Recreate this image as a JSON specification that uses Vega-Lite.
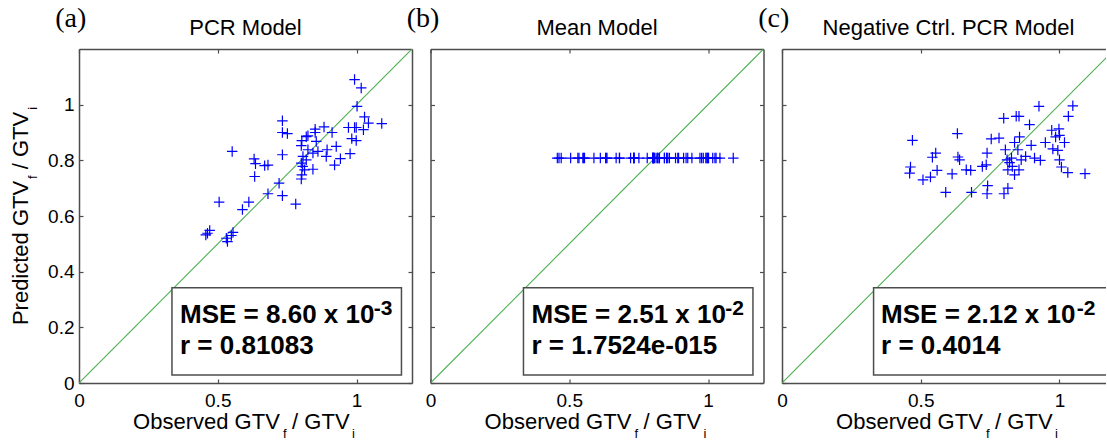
{
  "$schema": "https://vega.github.io/schema/vega-lite/v6.json",
  "background": "white",
  "padding": {"left": 9, "top": 5, "right": 0, "bottom": 0},
  "config": {
    "view": {"stroke": null},
    "axis": {
      "grid": false,
      "domainColor": "#4d4d4d",
      "domainWidth": 1.5,
      "tickColor": "#4d4d4d",
      "tickWidth": 1.2,
      "tickSize": -4,
      "labelFont": "Liberation Sans",
      "labelFontSize": 19,
      "labelColor": "#000000",
      "labelFlush": false,
      "labelOverlap": false
    },
    "axisBottom": {"labelPadding": 12},
    "axisLeft": {"labelPadding": 9}
  },
  "datasets": {
    "diag": [{"v": 0}, {"v": 1.2}],
    "notes": [
      {"panel": "a", "role": "tag", "label": "(a)"},
      {"panel": "a", "role": "title", "label": "PCR Model"},
      {"panel": "a", "role": "mse", "label": "MSE = 8.60 x 10"},
      {"panel": "a", "role": "exp", "label": "-3"},
      {"panel": "a", "role": "r", "label": "r = 0.81083"},
      {"panel": "a", "role": "xt1", "label": "Observed GTV"},
      {"panel": "a", "role": "xf", "label": "f"},
      {"panel": "a", "role": "xt2", "label": "/ GTV"},
      {"panel": "a", "role": "xi", "label": "i"},
      {"panel": "a", "role": "yt1", "label": "Predicted GTV"},
      {"panel": "a", "role": "yf", "label": "f"},
      {"panel": "a", "role": "yt2", "label": "/ GTV"},
      {"panel": "a", "role": "yi", "label": "i"},
      {"panel": "b", "role": "tag", "label": "(b)"},
      {"panel": "b", "role": "title", "label": "Mean Model"},
      {"panel": "b", "role": "mse", "label": "MSE = 2.51 x 10"},
      {"panel": "b", "role": "exp", "label": "-2"},
      {"panel": "b", "role": "r", "label": "r = 1.7524e-015"},
      {"panel": "b", "role": "xt1", "label": "Observed GTV"},
      {"panel": "b", "role": "xf", "label": "f"},
      {"panel": "b", "role": "xt2", "label": "/ GTV"},
      {"panel": "b", "role": "xi", "label": "i"},
      {"panel": "c", "role": "tag", "label": "(c)"},
      {"panel": "c", "role": "title", "label": "Negative Ctrl. PCR Model"},
      {"panel": "c", "role": "mse", "label": "MSE = 2.12 x 10"},
      {"panel": "c", "role": "exp", "label": "-2"},
      {"panel": "c", "role": "r", "label": "r = 0.4014"},
      {"panel": "c", "role": "xt1", "label": "Observed GTV"},
      {"panel": "c", "role": "xf", "label": "f"},
      {"panel": "c", "role": "xt2", "label": "/ GTV"},
      {"panel": "c", "role": "xi", "label": "i"}
    ],
    "pts": [
      {"panel": "a", "obs": 0.993, "pred": 1.090}, {"panel": "a", "obs": 1.017, "pred": 1.060},
      {"panel": "a", "obs": 1.002, "pred": 0.994}, {"panel": "a", "obs": 1.029, "pred": 0.956},
      {"panel": "a", "obs": 1.043, "pred": 0.934}, {"panel": "a", "obs": 1.091, "pred": 0.932},
      {"panel": "a", "obs": 1.025, "pred": 0.910}, {"panel": "a", "obs": 0.993, "pred": 0.918},
      {"panel": "a", "obs": 0.971, "pred": 0.918}, {"panel": "a", "obs": 0.999, "pred": 0.918},
      {"panel": "a", "obs": 0.983, "pred": 0.878}, {"panel": "a", "obs": 0.999, "pred": 0.871},
      {"panel": "a", "obs": 0.977, "pred": 0.824}, {"panel": "a", "obs": 0.942, "pred": 0.806},
      {"panel": "a", "obs": 0.921, "pred": 0.783}, {"panel": "a", "obs": 0.927, "pred": 0.850},
      {"panel": "a", "obs": 0.894, "pred": 0.838}, {"panel": "a", "obs": 0.891, "pred": 0.814},
      {"panel": "a", "obs": 0.912, "pred": 0.900}, {"panel": "a", "obs": 0.883, "pred": 0.920},
      {"panel": "a", "obs": 0.851, "pred": 0.912}, {"panel": "a", "obs": 0.851, "pred": 0.900},
      {"panel": "a", "obs": 0.855, "pred": 0.868}, {"panel": "a", "obs": 0.861, "pred": 0.832},
      {"panel": "a", "obs": 0.843, "pred": 0.826}, {"panel": "a", "obs": 0.843, "pred": 0.768},
      {"panel": "a", "obs": 0.825, "pred": 0.888}, {"panel": "a", "obs": 0.819, "pred": 0.885},
      {"panel": "a", "obs": 0.803, "pred": 0.871}, {"panel": "a", "obs": 0.801, "pred": 0.853},
      {"panel": "a", "obs": 0.807, "pred": 0.814}, {"panel": "a", "obs": 0.819, "pred": 0.802},
      {"panel": "a", "obs": 0.801, "pred": 0.790}, {"panel": "a", "obs": 0.806, "pred": 0.778},
      {"panel": "a", "obs": 0.813, "pred": 0.766}, {"panel": "a", "obs": 0.803, "pred": 0.748},
      {"panel": "a", "obs": 0.801, "pred": 0.733}, {"panel": "a", "obs": 0.781, "pred": 0.643},
      {"panel": "a", "obs": 0.733, "pred": 0.942}, {"panel": "a", "obs": 0.733, "pred": 0.900},
      {"panel": "a", "obs": 0.751, "pred": 0.896}, {"panel": "a", "obs": 0.733, "pred": 0.820},
      {"panel": "a", "obs": 0.721, "pred": 0.718}, {"panel": "a", "obs": 0.733, "pred": 0.673},
      {"panel": "a", "obs": 0.681, "pred": 0.680}, {"panel": "a", "obs": 0.669, "pred": 0.781},
      {"panel": "a", "obs": 0.681, "pred": 0.783}, {"panel": "a", "obs": 0.631, "pred": 0.805},
      {"panel": "a", "obs": 0.636, "pred": 0.788}, {"panel": "a", "obs": 0.633, "pred": 0.742},
      {"panel": "a", "obs": 0.552, "pred": 0.832}, {"panel": "a", "obs": 0.612, "pred": 0.650},
      {"panel": "a", "obs": 0.589, "pred": 0.623}, {"panel": "a", "obs": 0.505, "pred": 0.650},
      {"panel": "a", "obs": 0.471, "pred": 0.548}, {"panel": "a", "obs": 0.463, "pred": 0.538},
      {"panel": "a", "obs": 0.457, "pred": 0.532}, {"panel": "a", "obs": 0.531, "pred": 0.520},
      {"panel": "a", "obs": 0.535, "pred": 0.508}, {"panel": "a", "obs": 0.549, "pred": 0.530},
      {"panel": "a", "obs": 0.555, "pred": 0.541}, {"panel": "a", "obs": 0.825, "pred": 0.838},

      {"panel": "b", "obs": 0.993, "pred": 0.808}, {"panel": "b", "obs": 1.017, "pred": 0.808},
      {"panel": "b", "obs": 1.002, "pred": 0.808}, {"panel": "b", "obs": 1.029, "pred": 0.808},
      {"panel": "b", "obs": 1.043, "pred": 0.808}, {"panel": "b", "obs": 1.091, "pred": 0.808},
      {"panel": "b", "obs": 1.025, "pred": 0.808}, {"panel": "b", "obs": 0.993, "pred": 0.808},
      {"panel": "b", "obs": 0.971, "pred": 0.808}, {"panel": "b", "obs": 0.999, "pred": 0.808},
      {"panel": "b", "obs": 0.983, "pred": 0.808}, {"panel": "b", "obs": 0.999, "pred": 0.808},
      {"panel": "b", "obs": 0.977, "pred": 0.808}, {"panel": "b", "obs": 0.942, "pred": 0.808},
      {"panel": "b", "obs": 0.921, "pred": 0.808}, {"panel": "b", "obs": 0.927, "pred": 0.808},
      {"panel": "b", "obs": 0.894, "pred": 0.808}, {"panel": "b", "obs": 0.891, "pred": 0.808},
      {"panel": "b", "obs": 0.912, "pred": 0.808}, {"panel": "b", "obs": 0.883, "pred": 0.808},
      {"panel": "b", "obs": 0.851, "pred": 0.808}, {"panel": "b", "obs": 0.851, "pred": 0.808},
      {"panel": "b", "obs": 0.855, "pred": 0.808}, {"panel": "b", "obs": 0.861, "pred": 0.808},
      {"panel": "b", "obs": 0.843, "pred": 0.808}, {"panel": "b", "obs": 0.843, "pred": 0.808},
      {"panel": "b", "obs": 0.825, "pred": 0.808}, {"panel": "b", "obs": 0.819, "pred": 0.808},
      {"panel": "b", "obs": 0.803, "pred": 0.808}, {"panel": "b", "obs": 0.801, "pred": 0.808},
      {"panel": "b", "obs": 0.807, "pred": 0.808}, {"panel": "b", "obs": 0.819, "pred": 0.808},
      {"panel": "b", "obs": 0.801, "pred": 0.808}, {"panel": "b", "obs": 0.806, "pred": 0.808},
      {"panel": "b", "obs": 0.813, "pred": 0.808}, {"panel": "b", "obs": 0.803, "pred": 0.808},
      {"panel": "b", "obs": 0.801, "pred": 0.808}, {"panel": "b", "obs": 0.781, "pred": 0.808},
      {"panel": "b", "obs": 0.733, "pred": 0.808}, {"panel": "b", "obs": 0.733, "pred": 0.808},
      {"panel": "b", "obs": 0.751, "pred": 0.808}, {"panel": "b", "obs": 0.733, "pred": 0.808},
      {"panel": "b", "obs": 0.721, "pred": 0.808}, {"panel": "b", "obs": 0.733, "pred": 0.808},
      {"panel": "b", "obs": 0.681, "pred": 0.808}, {"panel": "b", "obs": 0.669, "pred": 0.808},
      {"panel": "b", "obs": 0.681, "pred": 0.808}, {"panel": "b", "obs": 0.631, "pred": 0.808},
      {"panel": "b", "obs": 0.636, "pred": 0.808}, {"panel": "b", "obs": 0.633, "pred": 0.808},
      {"panel": "b", "obs": 0.552, "pred": 0.808}, {"panel": "b", "obs": 0.612, "pred": 0.808},
      {"panel": "b", "obs": 0.589, "pred": 0.808}, {"panel": "b", "obs": 0.505, "pred": 0.808},
      {"panel": "b", "obs": 0.471, "pred": 0.808}, {"panel": "b", "obs": 0.463, "pred": 0.808},
      {"panel": "b", "obs": 0.457, "pred": 0.808}, {"panel": "b", "obs": 0.531, "pred": 0.808},
      {"panel": "b", "obs": 0.535, "pred": 0.808}, {"panel": "b", "obs": 0.549, "pred": 0.808},
      {"panel": "b", "obs": 0.555, "pred": 0.808}, {"panel": "b", "obs": 0.825, "pred": 0.808},

      {"panel": "c", "obs": 0.470, "pred": 0.872}, {"panel": "c", "obs": 0.463, "pred": 0.776},
      {"panel": "c", "obs": 0.460, "pred": 0.754}, {"panel": "c", "obs": 0.508, "pred": 0.730},
      {"panel": "c", "obs": 0.535, "pred": 0.740}, {"panel": "c", "obs": 0.559, "pred": 0.764},
      {"panel": "c", "obs": 0.542, "pred": 0.811}, {"panel": "c", "obs": 0.554, "pred": 0.826},
      {"panel": "c", "obs": 0.590, "pred": 0.685}, {"panel": "c", "obs": 0.613, "pred": 0.751},
      {"panel": "c", "obs": 0.632, "pred": 0.896}, {"panel": "c", "obs": 0.634, "pred": 0.812},
      {"panel": "c", "obs": 0.640, "pred": 0.802}, {"panel": "c", "obs": 0.664, "pred": 0.766},
      {"panel": "c", "obs": 0.680, "pred": 0.764}, {"panel": "c", "obs": 0.683, "pred": 0.685},
      {"panel": "c", "obs": 0.722, "pred": 0.778}, {"panel": "c", "obs": 0.736, "pred": 0.784},
      {"panel": "c", "obs": 0.739, "pred": 0.826}, {"panel": "c", "obs": 0.741, "pred": 0.709},
      {"panel": "c", "obs": 0.739, "pred": 0.680}, {"panel": "c", "obs": 0.754, "pred": 0.877},
      {"panel": "c", "obs": 0.782, "pred": 0.880}, {"panel": "c", "obs": 0.799, "pred": 0.951},
      {"panel": "c", "obs": 0.800, "pred": 0.680}, {"panel": "c", "obs": 0.814, "pred": 0.700},
      {"panel": "c", "obs": 0.805, "pred": 0.838}, {"panel": "c", "obs": 0.811, "pred": 0.802},
      {"panel": "c", "obs": 0.814, "pred": 0.766}, {"panel": "c", "obs": 0.820, "pred": 0.792},
      {"panel": "c", "obs": 0.838, "pred": 0.748}, {"panel": "c", "obs": 0.844, "pred": 0.958},
      {"panel": "c", "obs": 0.854, "pred": 0.958}, {"panel": "c", "obs": 0.838, "pred": 0.864},
      {"panel": "c", "obs": 0.850, "pred": 0.838}, {"panel": "c", "obs": 0.856, "pred": 0.884},
      {"panel": "c", "obs": 0.854, "pred": 0.766}, {"panel": "c", "obs": 0.862, "pred": 0.802},
      {"panel": "c", "obs": 0.878, "pred": 0.814}, {"panel": "c", "obs": 0.892, "pred": 0.928},
      {"panel": "c", "obs": 0.898, "pred": 0.854}, {"panel": "c", "obs": 0.910, "pred": 0.808},
      {"panel": "c", "obs": 0.926, "pred": 0.994}, {"panel": "c", "obs": 0.931, "pred": 0.800},
      {"panel": "c", "obs": 0.949, "pred": 0.864}, {"panel": "c", "obs": 0.972, "pred": 0.908},
      {"panel": "c", "obs": 0.976, "pred": 0.841}, {"panel": "c", "obs": 0.986, "pred": 0.884},
      {"panel": "c", "obs": 0.998, "pred": 0.913}, {"panel": "c", "obs": 0.994, "pred": 0.836},
      {"panel": "c", "obs": 1.000, "pred": 0.802}, {"panel": "c", "obs": 1.007, "pred": 0.776},
      {"panel": "c", "obs": 1.018, "pred": 0.864}, {"panel": "c", "obs": 1.030, "pred": 0.756},
      {"panel": "c", "obs": 1.032, "pred": 0.958}, {"panel": "c", "obs": 1.048, "pred": 0.996},
      {"panel": "c", "obs": 1.092, "pred": 0.752}, {"panel": "c", "obs": 0.827, "pred": 0.808},
      {"panel": "c", "obs": 0.830, "pred": 0.778}, {"panel": "c", "obs": 1.000, "pred": 0.890}
    ]
  },
  "bounds": "flush",
  "spacing": 18.5,
  "hconcat": [
    {
      "width": 333,
      "height": 334,
      "resolve": {"axis": {"x": "independent", "y": "independent"}},
      "layer": [
        {
          "data": {"name": "diag"},
          "mark": {"type": "line", "color": "#4caf50", "strokeWidth": 1.1, "clip": true},
          "encoding": {
            "x": {"field": "v", "type": "quantitative", "scale": {"domain": [0, 1.2], "nice": false},
                  "axis": {"orient": "top", "values": [0, 0.5, 1], "labels": false, "title": null}},
            "y": {"field": "v", "type": "quantitative", "scale": {"domain": [0, 1.2], "nice": false},
                  "axis": {"orient": "right", "values": [0, 0.2, 0.4, 0.6, 0.8, 1], "labels": false, "title": null}}
          }
        },
        {
          "data": {"name": "notes"},
          "transform": [{"filter": "datum.panel === 'a' && datum.role === 'mse'"}],
          "mark": {"type": "rect", "fill": "white", "stroke": "#4d4d4d", "strokeWidth": 1.5, "clip": true},
          "encoding": {
            "x": {"datum": 0.335, "axis": null}, "x2": {"datum": 1.162},
            "y": {"datum": 0.029, "axis": null}, "y2": {"datum": 0.342}
          }
        },
        {
          "data": {"name": "pts"},
          "transform": [{"filter": "datum.panel === 'a'"}],
          "mark": {"type": "point", "shape": "M-1,0H1M0,-1V1", "filled": false, "color": "#0000ff", "strokeWidth": 1.2, "size": 110, "opacity": 1},
          "encoding": {
            "x": {"field": "obs", "type": "quantitative", "scale": {"domain": [0, 1.2], "nice": false},
                  "axis": {"orient": "bottom", "values": [0, 0.5, 1], "format": "~g", "title": null}},
            "y": {"field": "pred", "type": "quantitative", "scale": {"domain": [0, 1.2], "nice": false},
                  "axis": {"orient": "left", "values": [0, 0.2, 0.4, 0.6, 0.8, 1], "format": "~g", "title": null}}
          }
        },
        {
          "data": {"name": "notes"},
          "transform": [{"filter": "datum.panel === 'a' && datum.role === 'tag'"}],
          "mark": {"type": "text", "align": "left", "baseline": "alphabetic", "font": "Liberation Serif", "fontSize": 28},
          "encoding": {"x": {"datum": -0.086, "axis": null}, "y": {"datum": 1.278, "axis": null}, "text": {"field": "label"}}
        },
        {
          "data": {"name": "notes"},
          "transform": [{"filter": "datum.panel === 'a' && datum.role === 'title'"}],
          "mark": {"type": "text", "align": "center", "baseline": "alphabetic", "font": "Liberation Sans", "fontSize": 22},
          "encoding": {"x": {"datum": 0.6, "axis": null}, "y": {"datum": 1.249, "axis": null}, "text": {"field": "label"}}
        },
        {
          "data": {"name": "notes"},
          "transform": [{"filter": "datum.panel === 'a' && datum.role === 'mse'"}],
          "mark": {"type": "text", "align": "left", "baseline": "alphabetic", "font": "Liberation Sans", "fontSize": 26, "fontWeight": "bold"},
          "encoding": {"x": {"datum": 0.364, "axis": null}, "y": {"datum": 0.215, "axis": null}, "text": {"field": "label"}}
        },
        {
          "data": {"name": "notes"},
          "transform": [{"filter": "datum.panel === 'a' && datum.role === 'exp'"}],
          "mark": {"type": "text", "align": "left", "baseline": "alphabetic", "font": "Liberation Sans", "fontSize": 21, "fontWeight": "bold"},
          "encoding": {"x": {"datum": 1.062, "axis": null}, "y": {"datum": 0.245, "axis": null}, "text": {"field": "label"}}
        },
        {
          "data": {"name": "notes"},
          "transform": [{"filter": "datum.panel === 'a' && datum.role === 'r'"}],
          "mark": {"type": "text", "align": "left", "baseline": "alphabetic", "font": "Liberation Sans", "fontSize": 26, "fontWeight": "bold"},
          "encoding": {"x": {"datum": 0.364, "axis": null}, "y": {"datum": 0.103, "axis": null}, "text": {"field": "label"}}
        },
        {
          "data": {"name": "notes"},
          "transform": [{"filter": "datum.panel === 'a' && datum.role === 'xt1'"}],
          "mark": {"type": "text", "align": "left", "baseline": "alphabetic", "font": "Liberation Sans", "fontSize": 22},
          "encoding": {"x": {"datum": 0.195, "axis": null}, "y": {"datum": -0.167, "axis": null}, "text": {"field": "label"}}
        },
        {
          "data": {"name": "notes"},
          "transform": [{"filter": "datum.panel === 'a' && datum.role === 'xf'"}],
          "mark": {"type": "text", "align": "left", "baseline": "alphabetic", "font": "Liberation Sans", "fontSize": 13},
          "encoding": {"x": {"datum": 0.735, "axis": null}, "y": {"datum": -0.199, "axis": null}, "text": {"field": "label"}}
        },
        {
          "data": {"name": "notes"},
          "transform": [{"filter": "datum.panel === 'a' && datum.role === 'xt2'"}],
          "mark": {"type": "text", "align": "left", "baseline": "alphabetic", "font": "Liberation Sans", "fontSize": 22},
          "encoding": {"x": {"datum": 0.768, "axis": null}, "y": {"datum": -0.167, "axis": null}, "text": {"field": "label"}}
        },
        {
          "data": {"name": "notes"},
          "transform": [{"filter": "datum.panel === 'a' && datum.role === 'xi'"}],
          "mark": {"type": "text", "align": "left", "baseline": "alphabetic", "font": "Liberation Sans", "fontSize": 13},
          "encoding": {"x": {"datum": 0.984, "axis": null}, "y": {"datum": -0.199, "axis": null}, "text": {"field": "label"}}
        },
        {
          "data": {"name": "notes"},
          "transform": [{"filter": "datum.panel === 'a' && datum.role === 'yt1'"}],
          "mark": {"type": "text", "align": "left", "baseline": "alphabetic", "angle": 270, "font": "Liberation Sans", "fontSize": 22},
          "encoding": {"x": {"datum": -0.184, "axis": null}, "y": {"datum": 0.208, "axis": null}, "text": {"field": "label"}}
        },
        {
          "data": {"name": "notes"},
          "transform": [{"filter": "datum.panel === 'a' && datum.role === 'yf'"}],
          "mark": {"type": "text", "align": "left", "baseline": "alphabetic", "angle": 270, "font": "Liberation Sans", "fontSize": 13},
          "encoding": {"x": {"datum": -0.152, "axis": null}, "y": {"datum": 0.733, "axis": null}, "text": {"field": "label"}}
        },
        {
          "data": {"name": "notes"},
          "transform": [{"filter": "datum.panel === 'a' && datum.role === 'yt2'"}],
          "mark": {"type": "text", "align": "left", "baseline": "alphabetic", "angle": 270, "font": "Liberation Sans", "fontSize": 22},
          "encoding": {"x": {"datum": -0.184, "axis": null}, "y": {"datum": 0.768, "axis": null}, "text": {"field": "label"}}
        },
        {
          "data": {"name": "notes"},
          "transform": [{"filter": "datum.panel === 'a' && datum.role === 'yi'"}],
          "mark": {"type": "text", "align": "left", "baseline": "alphabetic", "angle": 270, "font": "Liberation Sans", "fontSize": 13},
          "encoding": {"x": {"datum": -0.152, "axis": null}, "y": {"datum": 0.982, "axis": null}, "text": {"field": "label"}}
        }
      ]
    },
    {
      "width": 333,
      "height": 334,
      "resolve": {"axis": {"x": "independent", "y": "independent"}},
      "layer": [
        {
          "data": {"name": "diag"},
          "mark": {"type": "line", "color": "#4caf50", "strokeWidth": 1.1, "clip": true},
          "encoding": {
            "x": {"field": "v", "type": "quantitative", "scale": {"domain": [0, 1.2], "nice": false},
                  "axis": {"orient": "top", "values": [0, 0.5, 1], "labels": false, "title": null}},
            "y": {"field": "v", "type": "quantitative", "scale": {"domain": [0, 1.2], "nice": false},
                  "axis": {"orient": "right", "values": [0, 0.2, 0.4, 0.6, 0.8, 1], "labels": false, "title": null}}
          }
        },
        {
          "data": {"name": "notes"},
          "transform": [{"filter": "datum.panel === 'b' && datum.role === 'mse'"}],
          "mark": {"type": "rect", "fill": "white", "stroke": "#4d4d4d", "strokeWidth": 1.5, "clip": true},
          "encoding": {
            "x": {"datum": 0.335, "axis": null}, "x2": {"datum": 1.162},
            "y": {"datum": 0.029, "axis": null}, "y2": {"datum": 0.342}
          }
        },
        {
          "data": {"name": "pts"},
          "transform": [{"filter": "datum.panel === 'b'"}],
          "mark": {"type": "point", "shape": "M-1,0H1M0,-1V1", "filled": false, "color": "#0000ff", "strokeWidth": 1.2, "size": 110, "opacity": 1},
          "encoding": {
            "x": {"field": "obs", "type": "quantitative", "scale": {"domain": [0, 1.2], "nice": false},
                  "axis": {"orient": "bottom", "values": [0, 0.5, 1], "format": "~g", "title": null}},
            "y": {"field": "pred", "type": "quantitative", "scale": {"domain": [0, 1.2], "nice": false},
                  "axis": {"orient": "left", "values": [0, 0.2, 0.4, 0.6, 0.8, 1], "labels": false, "title": null}}
          }
        },
        {
          "data": {"name": "notes"},
          "transform": [{"filter": "datum.panel === 'b' && datum.role === 'tag'"}],
          "mark": {"type": "text", "align": "left", "baseline": "alphabetic", "font": "Liberation Serif", "fontSize": 28},
          "encoding": {"x": {"datum": -0.086, "axis": null}, "y": {"datum": 1.278, "axis": null}, "text": {"field": "label"}}
        },
        {
          "data": {"name": "notes"},
          "transform": [{"filter": "datum.panel === 'b' && datum.role === 'title'"}],
          "mark": {"type": "text", "align": "center", "baseline": "alphabetic", "font": "Liberation Sans", "fontSize": 22},
          "encoding": {"x": {"datum": 0.6, "axis": null}, "y": {"datum": 1.249, "axis": null}, "text": {"field": "label"}}
        },
        {
          "data": {"name": "notes"},
          "transform": [{"filter": "datum.panel === 'b' && datum.role === 'mse'"}],
          "mark": {"type": "text", "align": "left", "baseline": "alphabetic", "font": "Liberation Sans", "fontSize": 26, "fontWeight": "bold"},
          "encoding": {"x": {"datum": 0.364, "axis": null}, "y": {"datum": 0.215, "axis": null}, "text": {"field": "label"}}
        },
        {
          "data": {"name": "notes"},
          "transform": [{"filter": "datum.panel === 'b' && datum.role === 'exp'"}],
          "mark": {"type": "text", "align": "left", "baseline": "alphabetic", "font": "Liberation Sans", "fontSize": 21, "fontWeight": "bold"},
          "encoding": {"x": {"datum": 1.062, "axis": null}, "y": {"datum": 0.245, "axis": null}, "text": {"field": "label"}}
        },
        {
          "data": {"name": "notes"},
          "transform": [{"filter": "datum.panel === 'b' && datum.role === 'r'"}],
          "mark": {"type": "text", "align": "left", "baseline": "alphabetic", "font": "Liberation Sans", "fontSize": 26, "fontWeight": "bold"},
          "encoding": {"x": {"datum": 0.364, "axis": null}, "y": {"datum": 0.103, "axis": null}, "text": {"field": "label"}}
        },
        {
          "data": {"name": "notes"},
          "transform": [{"filter": "datum.panel === 'b' && datum.role === 'xt1'"}],
          "mark": {"type": "text", "align": "left", "baseline": "alphabetic", "font": "Liberation Sans", "fontSize": 22},
          "encoding": {"x": {"datum": 0.195, "axis": null}, "y": {"datum": -0.167, "axis": null}, "text": {"field": "label"}}
        },
        {
          "data": {"name": "notes"},
          "transform": [{"filter": "datum.panel === 'b' && datum.role === 'xf'"}],
          "mark": {"type": "text", "align": "left", "baseline": "alphabetic", "font": "Liberation Sans", "fontSize": 13},
          "encoding": {"x": {"datum": 0.735, "axis": null}, "y": {"datum": -0.199, "axis": null}, "text": {"field": "label"}}
        },
        {
          "data": {"name": "notes"},
          "transform": [{"filter": "datum.panel === 'b' && datum.role === 'xt2'"}],
          "mark": {"type": "text", "align": "left", "baseline": "alphabetic", "font": "Liberation Sans", "fontSize": 22},
          "encoding": {"x": {"datum": 0.768, "axis": null}, "y": {"datum": -0.167, "axis": null}, "text": {"field": "label"}}
        },
        {
          "data": {"name": "notes"},
          "transform": [{"filter": "datum.panel === 'b' && datum.role === 'xi'"}],
          "mark": {"type": "text", "align": "left", "baseline": "alphabetic", "font": "Liberation Sans", "fontSize": 13},
          "encoding": {"x": {"datum": 0.984, "axis": null}, "y": {"datum": -0.199, "axis": null}, "text": {"field": "label"}}
        }
      ]
    },
    {
      "width": 324,
      "height": 334,
      "resolve": {"axis": {"x": "independent", "y": "independent"}},
      "layer": [
        {
          "data": {"name": "diag"},
          "mark": {"type": "line", "color": "#4caf50", "strokeWidth": 1.1, "clip": true},
          "encoding": {
            "x": {"field": "v", "type": "quantitative", "scale": {"domain": [0, 1.1676], "nice": false},
                  "axis": {"orient": "top", "values": [0, 0.5, 1], "labels": false, "title": null}},
            "y": {"field": "v", "type": "quantitative", "scale": {"domain": [0, 1.2], "nice": false}, "axis": null}
          }
        },
        {
          "data": {"name": "notes"},
          "transform": [{"filter": "datum.panel === 'c' && datum.role === 'mse'"}],
          "mark": {"type": "rect", "fill": "white", "stroke": "#4d4d4d", "strokeWidth": 1.5, "clip": true},
          "encoding": {
            "x": {"datum": 0.33, "axis": null}, "x2": {"datum": 1.19},
            "y": {"datum": 0.029, "axis": null}, "y2": {"datum": 0.342}
          }
        },
        {
          "data": {"name": "pts"},
          "transform": [{"filter": "datum.panel === 'c'"}],
          "mark": {"type": "point", "shape": "M-1,0H1M0,-1V1", "filled": false, "color": "#0000ff", "strokeWidth": 1.2, "size": 110, "opacity": 1},
          "encoding": {
            "x": {"field": "obs", "type": "quantitative", "scale": {"domain": [0, 1.1676], "nice": false},
                  "axis": {"orient": "bottom", "values": [0, 0.5, 1], "format": "~g", "title": null}},
            "y": {"field": "pred", "type": "quantitative", "scale": {"domain": [0, 1.2], "nice": false},
                  "axis": {"orient": "left", "values": [0, 0.2, 0.4, 0.6, 0.8, 1], "labels": false, "title": null}}
          }
        },
        {
          "data": {"name": "notes"},
          "transform": [{"filter": "datum.panel === 'c' && datum.role === 'tag'"}],
          "mark": {"type": "text", "align": "left", "baseline": "alphabetic", "font": "Liberation Serif", "fontSize": 28},
          "encoding": {"x": {"datum": -0.086, "axis": null}, "y": {"datum": 1.278, "axis": null}, "text": {"field": "label"}}
        },
        {
          "data": {"name": "notes"},
          "transform": [{"filter": "datum.panel === 'c' && datum.role === 'title'"}],
          "mark": {"type": "text", "align": "center", "baseline": "alphabetic", "font": "Liberation Sans", "fontSize": 22},
          "encoding": {"x": {"datum": 0.6, "axis": null}, "y": {"datum": 1.249, "axis": null}, "text": {"field": "label"}}
        },
        {
          "data": {"name": "notes"},
          "transform": [{"filter": "datum.panel === 'c' && datum.role === 'mse'"}],
          "mark": {"type": "text", "align": "left", "baseline": "alphabetic", "font": "Liberation Sans", "fontSize": 26, "fontWeight": "bold"},
          "encoding": {"x": {"datum": 0.357, "axis": null}, "y": {"datum": 0.215, "axis": null}, "text": {"field": "label"}}
        },
        {
          "data": {"name": "notes"},
          "transform": [{"filter": "datum.panel === 'c' && datum.role === 'exp'"}],
          "mark": {"type": "text", "align": "left", "baseline": "alphabetic", "font": "Liberation Sans", "fontSize": 21, "fontWeight": "bold"},
          "encoding": {"x": {"datum": 1.062, "axis": null}, "y": {"datum": 0.245, "axis": null}, "text": {"field": "label"}}
        },
        {
          "data": {"name": "notes"},
          "transform": [{"filter": "datum.panel === 'c' && datum.role === 'r'"}],
          "mark": {"type": "text", "align": "left", "baseline": "alphabetic", "font": "Liberation Sans", "fontSize": 26, "fontWeight": "bold"},
          "encoding": {"x": {"datum": 0.357, "axis": null}, "y": {"datum": 0.103, "axis": null}, "text": {"field": "label"}}
        },
        {
          "data": {"name": "notes"},
          "transform": [{"filter": "datum.panel === 'c' && datum.role === 'xt1'"}],
          "mark": {"type": "text", "align": "left", "baseline": "alphabetic", "font": "Liberation Sans", "fontSize": 22},
          "encoding": {"x": {"datum": 0.195, "axis": null}, "y": {"datum": -0.167, "axis": null}, "text": {"field": "label"}}
        },
        {
          "data": {"name": "notes"},
          "transform": [{"filter": "datum.panel === 'c' && datum.role === 'xf'"}],
          "mark": {"type": "text", "align": "left", "baseline": "alphabetic", "font": "Liberation Sans", "fontSize": 13},
          "encoding": {"x": {"datum": 0.735, "axis": null}, "y": {"datum": -0.199, "axis": null}, "text": {"field": "label"}}
        },
        {
          "data": {"name": "notes"},
          "transform": [{"filter": "datum.panel === 'c' && datum.role === 'xt2'"}],
          "mark": {"type": "text", "align": "left", "baseline": "alphabetic", "font": "Liberation Sans", "fontSize": 22},
          "encoding": {"x": {"datum": 0.768, "axis": null}, "y": {"datum": -0.167, "axis": null}, "text": {"field": "label"}}
        },
        {
          "data": {"name": "notes"},
          "transform": [{"filter": "datum.panel === 'c' && datum.role === 'xi'"}],
          "mark": {"type": "text", "align": "left", "baseline": "alphabetic", "font": "Liberation Sans", "fontSize": 13},
          "encoding": {"x": {"datum": 0.984, "axis": null}, "y": {"datum": -0.199, "axis": null}, "text": {"field": "label"}}
        }
      ]
    }
  ]
}
